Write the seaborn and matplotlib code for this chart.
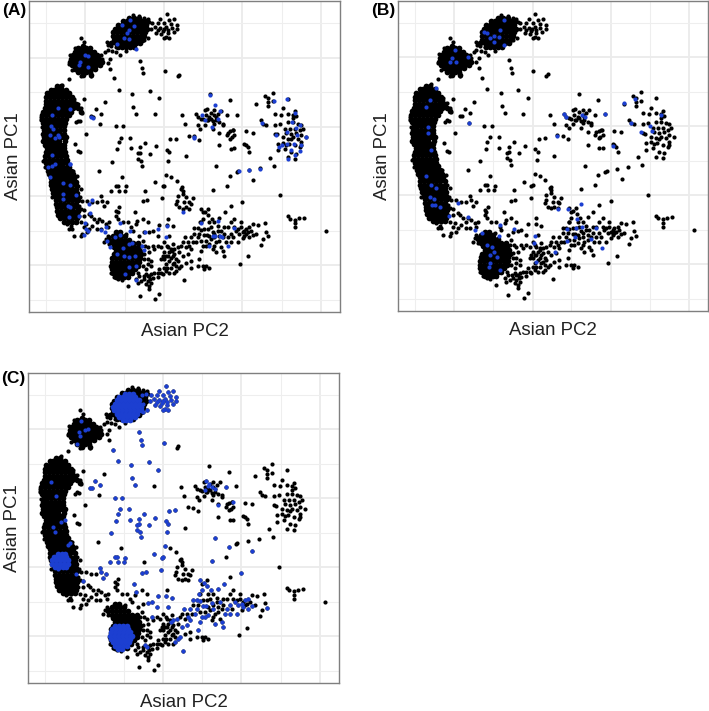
"""Asian PC1 / PC2 scatter, three panels with different highlighted samples."""

import matplotlib
matplotlib.use("Agg")
import matplotlib.pyplot as plt
import pandas as pd
import seaborn as sns

x_limits = (85, 1016)
y_limits = (968, 38)
major_x = [254, 489, 724, 959]
minor_x = [137, 371, 606, 842]
major_y = [207, 414, 621, 828]
minor_y = [103, 311, 517, 725, 932]

# dense clusters, written as (PC1, [PC2, ...]) rows
band_rows = [
    (292, [170, 182]), (303, [150, 161, 173, 184, 195]),
    (314, [140, 152, 164, 176, 188, 200, 206]),
    (325, [136, 147, 159, 171, 183, 195, 207, 213]),
    (336, [135, 148, 160, 172, 184, 196, 208, 218]),
    (347, [135, 147, 159, 171, 183, 195, 207, 219, 226]),
    (358, [133, 146, 158, 170, 182, 194, 206, 218, 232]),
    (369, [128, 140, 152, 164, 176, 188, 200, 212, 240]),
    (380, [124, 136, 148, 160, 172, 184, 196, 206]),
    (391, [124, 135, 147, 159, 171, 183, 195]),
    (402, [128, 140, 152, 164, 176, 186, 193]),
    (413, [132, 143, 155, 167, 179, 190]),
    (424, [130, 142, 154, 166, 178, 190]),
    (435, [128, 140, 152, 164, 176, 190]),
    (446, [130, 142, 154, 166, 178, 188, 195]),
    (457, [128, 140, 152, 164, 176, 192]),
    (468, [132, 144, 156, 168, 180, 190]),
    (479, [138, 150, 162, 174, 190]),
    (490, [135, 147, 159, 171, 183, 192]),
    (501, [132, 144, 156, 168, 180, 196]),
    (512, [132, 145, 157, 169, 181, 193, 198]),
    (523, [135, 147, 159, 171, 183, 200]),
    (534, [138, 150, 162, 174, 186, 198, 205]),
    (545, [142, 154, 166, 178, 190, 202, 212]),
    (556, [145, 157, 169, 181, 193, 205, 218]),
    (567, [150, 161, 173, 185, 197, 209, 220]),
    (578, [150, 162, 174, 186, 198, 210, 225]),
    (589, [152, 164, 176, 188, 200, 212, 225]),
    (600, [155, 167, 179, 191, 203, 215, 225]),
    (611, [158, 170, 182, 194, 206, 218, 228]),
    (622, [162, 174, 186, 198, 210, 222, 230]),
    (633, [165, 177, 189, 201, 213, 225, 232]),
    (644, [165, 177, 189, 201, 213, 225]),
    (655, [168, 180, 192, 204, 216, 230]),
    (666, [168, 180, 192, 204, 216, 232]),
    (677, [172, 184, 196, 208, 220, 230]),
    (688, [178, 190, 202, 214, 228]),
    (699, [190, 202, 214, 225]),
]
west_blob_rows = [
    (172, [248]), (180, [232, 244, 256, 268]),
    (190, [224, 236, 248, 260, 272, 280]),
    (200, [218, 230, 242, 254, 266, 278, 288]),
    (210, [212, 224, 236, 248, 260, 272, 284, 295]),
    (220, [208, 220, 232, 244, 256, 268, 280, 292, 305]),
    (230, [214, 226, 238, 250, 262, 274, 286, 297]),
    (240, [222, 234, 246, 258, 270, 282]),
    (250, [232, 244, 256, 268]), (260, [248, 272]),
]
north_blob_rows = [
    (88, [385, 400, 415]), (99, [365, 377, 389, 401, 413, 425, 437]),
    (110, [350, 362, 374, 386, 398, 410, 422, 434]),
    (121, [342, 354, 366, 378, 390, 402, 414, 426, 438]),
    (132, [336, 348, 360, 372, 384, 396, 408, 420, 432]),
    (143, [336, 348, 360, 372, 384, 396, 408, 420, 430]),
    (154, [338, 350, 362, 374, 386, 398, 410, 422]),
    (165, [330, 345, 357, 369, 381, 393, 405, 417]),
    (176, [350, 362, 374, 386, 398]),
]
south_blob_rows = [
    (730, [345, 357]), (741, [335, 347, 359, 371]),
    (752, [325, 337, 349, 361, 373, 385]),
    (763, [335, 347, 359, 371, 383, 395, 410]),
    (774, [340, 352, 364, 376, 388, 400, 412]),
    (785, [345, 357, 369, 381, 393, 405, 417]),
    (796, [338, 350, 362, 374, 386, 398, 410, 420]),
    (807, [334, 346, 358, 370, 382, 394, 406, 416]),
    (818, [332, 344, 356, 368, 380, 392, 404, 414]),
    (829, [330, 342, 354, 366, 378, 390, 402, 412]),
    (840, [332, 344, 356, 368, 380, 392, 402]),
    (851, [336, 348, 360, 372, 384, 394]),
    (862, [345, 357, 369, 380]),
]

# blue discs of panel C, same row layout
c_north_rows = [
    (100, [375, 387, 399]), (110, [358, 370, 382, 394, 406]),
    (120, [350, 362, 374, 386, 398, 410, 418]),
    (130, [344, 356, 368, 380, 392, 404, 416]),
    (140, [340, 352, 364, 376, 388, 400, 412, 422]),
    (150, [342, 354, 366, 378, 390, 402, 414, 424]),
    (160, [350, 362, 374, 386, 398, 410]),
    (170, [358, 370, 382, 394, 404]), (180, [368, 378, 390]),
]
c_south_rows = [
    (796, [345, 357, 369, 381]), (806, [336, 348, 360, 372, 384]),
    (816, [332, 344, 356, 368, 380, 390]),
    (826, [330, 342, 354, 366, 378, 390, 396]),
    (836, [332, 344, 356, 368, 380, 390]),
    (846, [338, 350, 362, 374, 386]),
    (856, [345, 357, 369, 380]), (866, [355, 367]),
]
c_band_rows = [
    (580, [175, 187, 197]), (590, [163, 175, 187, 199]),
    (600, [157, 169, 181, 193, 205]), (610, [157, 169, 181, 193, 205]),
    (620, [165, 177, 189, 200]),
]

# sparse samples, (PC2, PC1)
upper_points = [
    (497, 78), (478, 92), (505, 95), (520, 93), (452, 105), (470, 105), (490, 105),
    (510, 108), (528, 110), (462, 115), (478, 118), (495, 115), (512, 118), (528, 122),
    (450, 122), (470, 125), (485, 128), (500, 125), (518, 132), (480, 138), (495, 145),
    (505, 150), (490, 150), (465, 135), (442, 150), (430, 155), (425, 104), (437, 102),
    (500, 135), (488, 122), (418, 216), (424, 238), (426, 254), (491, 248), (338, 269),
    (353, 303), (393, 315), (446, 306), (474, 328), (396, 354), (405, 375), (287, 362),
    (270, 382), (277, 384), (302, 375), (344, 412), (367, 412), (361, 447), (387, 447),
    (353, 460), (348, 481), (389, 479), (432, 462), (417, 475), (465, 473), (508, 452),
    (525, 450), (497, 483), (504, 490), (417, 492), (411, 493), (448, 495), (412, 510),
    (332, 518), (420, 516), (424, 530), (502, 515), (646, 532), (686, 560), (757, 572),
    (495, 557), (463, 580), (490, 590), (485, 592), (636, 602), (346, 590), (352, 590),
    (330, 606), (355, 606), (372, 606), (375, 592), (437, 634), (425, 637), (483, 628),
    (301, 622), (303, 635), (318, 640), (310, 652), (250, 662), (402, 670), (408, 695),
    (724, 638), (530, 262), (535, 258), (461, 376), (628, 317), (687, 335), (542, 380),
    (553, 407), (564, 441), (580, 443), (555, 502), (295, 545), (222, 465), (238, 490),
    (232, 488), (256, 435), (237, 398), (232, 396), (226, 400), (250, 331), (314, 341),
    (298, 405), (327, 240), (320, 222), (328, 210), (305, 210), (205, 272), (362, 563),
    (432, 605), (510, 563), (527, 575), (543, 595), (545, 605), (677, 590), (708, 550),
    (712, 547), (743, 543), (776, 537), (805, 507), (817, 530), (837, 619), (860, 682),
    (866, 690), (880, 692), (892, 688), (908, 687), (882, 703), (880, 715), (975, 725),
]
east_points = [
    (612, 365), (618, 362), (640, 365), (660, 366), (585, 376), (590, 385), (600, 390),
    (615, 380), (625, 385), (640, 380), (650, 375), (605, 392), (620, 395), (630, 390),
    (645, 395), (655, 400), (665, 405), (640, 405), (635, 420), (655, 432), (665, 410),
    (678, 380), (707, 378), (612, 408), (590, 410), (598, 420), (618, 395), (630, 372),
    (645, 385), (635, 398), (680, 432), (688, 428), (695, 424), (677, 440), (692, 445),
    (700, 440), (688, 450), (697, 425), (690, 480), (700, 478), (735, 470), (740, 475),
    (745, 490), (730, 467), (655, 470), (595, 453), (735, 428), (755, 432), (790, 323),
    (800, 328), (815, 312), (860, 330), (800, 340), (815, 337), (765, 346), (800, 353),
    (845, 358), (880, 368), (875, 378), (820, 375), (840, 378), (860, 375), (875, 388),
    (885, 382), (780, 395), (785, 405), (795, 408), (820, 408), (835, 405), (860, 400),
    (875, 400), (890, 405), (900, 408), (850, 420), (865, 420), (880, 420), (895, 425),
    (855, 432), (870, 435), (885, 432), (900, 440), (915, 445), (845, 445), (860, 450),
    (875, 445), (890, 450), (900, 460), (830, 465), (845, 462), (862, 465), (880, 470),
    (895, 475), (830, 485), (850, 480), (870, 490), (885, 495), (860, 505), (880, 510),
    (820, 435), (828, 437), (905, 420), (898, 470), (868, 452), (855, 468),
]
lower_points = [
    (600, 660), (612, 668), (622, 678), (632, 690), (605, 690), (598, 700), (655, 686),
    (672, 670), (580, 718), (590, 718), (600, 722), (610, 738), (618, 738), (635, 728),
    (640, 745), (660, 725), (680, 745), (675, 760), (690, 735), (705, 725), (715, 735),
    (725, 730), (735, 720), (745, 715), (730, 740), (745, 745), (755, 738), (800, 742),
    (710, 760), (690, 760), (665, 785), (670, 800), (645, 790), (625, 765), (605, 770),
    (600, 785), (585, 760), (565, 770), (552, 745), (570, 745), (560, 795), (545, 800),
    (530, 775), (520, 780), (512, 785), (550, 872), (535, 835), (525, 845), (540, 830),
    (505, 740), (515, 712), (498, 707), (475, 708), (445, 728), (455, 725), (470, 740),
    (455, 770), (440, 860), (435, 855), (595, 810), (570, 780), (590, 745), (615, 770),
    (605, 670), (620, 660), (640, 700), (690, 650), (700, 690), (720, 700), (770, 708),
    (790, 702), (795, 728), (785, 750), (780, 768), (742, 802), (716, 825), (640, 770),
    (655, 740), (665, 745), (620, 720), (630, 715), (650, 712), (625, 740), (600, 755),
    (645, 760), (660, 775), (635, 780), (625, 835), (610, 840), (615, 830), (605, 830),
    (590, 830), (570, 815), (570, 835), (555, 820), (490, 760), (497, 770), (490, 790),
    (505, 790), (500, 800), (515, 800), (490, 810), (505, 815), (520, 820), (495, 825),
    (510, 835), (525, 830), (495, 845), (520, 850), (475, 840), (485, 855), (460, 850),
    (445, 860), (440, 875), (450, 880), (430, 870), (420, 875), (405, 870), (410, 880),
    (445, 890), (435, 885), (380, 890), (416, 920), (445, 900), (475, 915), (462, 928),
    (440, 825), (450, 830), (440, 810), (430, 795), (450, 855), (470, 862), (480, 850),
    (540, 770), (515, 765), (440, 775), (540, 600), (530, 620), (528, 635), (525, 645),
    (545, 615), (555, 625), (575, 628), (565, 640), (550, 640), (535, 655), (555, 655),
    (545, 660), (570, 645), (565, 660), (245, 635), (260, 635), (275, 640), (290, 640),
    (235, 650), (250, 680), (240, 700), (265, 675), (270, 680), (280, 690), (295, 690),
    (305, 695), (315, 705), (325, 700), (290, 700), (275, 710), (255, 705), (250, 715),
    (265, 720), (260, 730), (245, 735), (240, 742), (290, 720), (300, 720), (320, 715),
    (345, 665), (350, 670), (345, 680), (352, 690), (355, 655), (365, 700), (380, 700),
    (405, 705), (425, 690), (440, 700), (395, 725), (390, 715), (375, 735), (320, 740),
    (325, 745), (310, 760), (430, 730), (415, 740), (215, 720), (210, 712), (200, 705),
    (205, 720), (220, 740), (432, 770), (425, 755), (500, 690), (470, 770), (480, 775),
    (600, 700), (625, 700), (690, 700), (680, 715), (710, 720), (755, 705),
    # second pass over the crowded part of the arm
    (500, 775), (510, 780), (495, 800), (485, 800), (510, 808), (525, 810), (498, 835),
    (515, 825), (530, 815), (505, 850), (490, 835), (470, 850), (455, 865), (448, 870),
    (428, 860), (415, 860), (560, 760), (575, 760), (640, 735), (650, 725), (630, 750),
    (615, 755), (655, 755), (670, 735), (695, 745), (700, 715), (720, 715), (730, 725),
    (735, 735), (725, 748), (740, 730), (750, 725), (765, 735), (670, 715), (610, 720),
    (595, 735), (580, 735), (545, 760), (555, 775), (535, 790), (520, 795), (460, 780),
    (445, 790), (450, 815), (435, 840), (480, 810),
]

# loose samples around the edges of the dense clusters
edge_points = [
    (240, 150), (250, 160), (222, 178), (208, 198), (204, 225), (215, 245), (240, 262),
    (272, 262), (300, 200), (312, 190), (318, 160), (330, 172), (320, 185), (333, 187),
    (345, 192), (356, 200), (375, 188), (322, 170), (345, 175), (430, 88), (415, 82),
    (395, 80), (440, 92), (445, 100), (185, 288), (220, 330), (232, 345), (240, 358),
    (245, 372), (120, 385), (120, 395), (125, 415), (138, 470), (128, 515), (132, 535),
    (148, 560), (218, 545), (228, 560), (222, 575), (232, 590), (240, 600), (238, 625),
    (155, 625), (165, 610), (240, 660), (235, 680), (215, 700), (205, 698), (325, 765),
    (315, 750), (420, 770), (430, 810), (425, 830), (412, 850), (340, 862), (352, 870),
    (362, 872), (330, 850),
]

# highlighted samples per panel
blue_a = [
    (388, 95), (363, 110), (398, 113), (383, 125), (378, 135), (368, 150), (383, 153),
    (348, 168), (406, 183), (253, 198), (263, 203), (238, 220), (263, 235), (236, 230),
    (153, 378), (171, 357), (208, 360), (270, 385), (276, 387), (150, 413), (158, 420),
    (148, 438), (173, 438), (163, 447), (176, 445), (153, 500), (163, 525), (208, 525),
    (143, 535), (153, 530), (580, 447), (628, 318), (641, 348), (658, 367), (603, 380),
    (613, 395), (651, 390), (633, 415), (580, 446), (818, 338), (858, 332), (880, 372),
    (783, 403), (873, 400), (883, 417), (896, 408), (825, 438), (858, 430), (888, 440),
    (913, 446), (898, 470), (878, 465), (858, 465), (843, 468), (833, 475), (870, 485),
    (896, 487), (880, 500), (860, 511), (713, 545), (743, 543), (776, 539), (208, 525),
    (188, 583), (148, 565), (208, 587), (188, 615), (188, 630), (203, 650), (208, 655),
    (205, 685), (226, 618), (266, 645), (275, 633), (236, 680), (268, 673), (253, 702),
    (256, 720), (263, 725), (250, 737), (301, 722), (316, 715), (313, 728), (356, 703),
    (386, 725), (343, 745), (318, 755), (326, 773), (356, 737), (366, 777), (383, 765),
    (393, 763), (423, 770), (428, 783), (348, 795), (368, 800), (383, 805), (403, 800),
    (383, 833), (406, 830), (373, 853), (406, 873), (432, 728), (470, 720), (498, 710),
    (496, 745), (546, 668), (601, 703), (650, 697), (636, 740), (641, 740), (658, 742),
    (664, 743), (698, 717), (680, 770), (623, 771),
]
blue_b = [
    (402, 95), (342, 130), (352, 135), (392, 125), (372, 143), (387, 145), (362, 150),
    (372, 160), (402, 170), (255, 185), (247, 210), (242, 220), (259, 220), (295, 207),
    (199, 300), (182, 335), (170, 357), (299, 403), (175, 415), (175, 435), (183, 485),
    (169, 563), (184, 590), (199, 600), (182, 625), (192, 633), (197, 650), (212, 655),
    (187, 650), (265, 645), (237, 683), (294, 685), (315, 725), (337, 735), (390, 710),
    (432, 722), (387, 742), (495, 743), (492, 765), (352, 770), (367, 775), (372, 790),
    (362, 800), (382, 805), (362, 825), (357, 835), (392, 845), (499, 820), (557, 790),
    (564, 442), (584, 377), (590, 387), (637, 380), (647, 387), (707, 378), (763, 345),
    (797, 332), (874, 380), (785, 405), (842, 412), (815, 432), (849, 428), (730, 473),
    (634, 647), (597, 663), (567, 663), (622, 693), (619, 720), (639, 715), (592, 721),
    (679, 720), (592, 757), (617, 745), (665, 753), (699, 780),
]
blue_c_extra = [
    (245, 182), (238, 215), (255, 210), (265, 205), (240, 228), (232, 250), (155, 365),
    (170, 408), (160, 500), (165, 515), (185, 485), (195, 478), (210, 548), (205, 555),
    (175, 625), (230, 640), (628, 370), (615, 390), (635, 380), (645, 385), (625, 378),
    (618, 362), (655, 435), (678, 380), (700, 425), (420, 150), (430, 130),
]

panel_tags = ["(A)", "(B)", "(C)"]
x_label = "Asian PC2"
y_label = "Asian PC1"

FIG_W, FIG_H = 709, 711
DOT = 9
DENSE_DOT = 17
BLUE = "#1c3fd1"


def expand_rows(rows):
    """Turn (PC1, [PC2, ...]) rows into (PC2, PC1) pairs."""
    return [(x, y) for y, xs in rows for x in xs]


def to_frame(points):
    return pd.DataFrame(points, columns=["pc2", "pc1"])


def dots(ax, points, color, size, zorder):
    sns.scatterplot(data=to_frame(points), x="pc2", y="pc1", color=color, s=size, linewidth=0,
                    ax=ax, zorder=zorder, legend=False)


def draw_panel(fig, box, tag, tag_y, highlighted, discs=None):
    """Draw one panel: all samples in black, the highlighted ones on top in blue."""
    left, top, width, height = box
    ax = fig.add_axes([left / FIG_W, 1 - (top + height) / FIG_H, width / FIG_W, height / FIG_H])
    dots(ax, dense_points, "black", DENSE_DOT, 3)
    dots(ax, sparse_points, "black", DOT, 3)
    dots(ax, highlighted, BLUE, DOT, 4)
    if discs:
        dots(ax, discs, BLUE, DENSE_DOT, 4)
    ax.set_xlim(*x_limits)
    ax.set_ylim(*y_limits)
    ax.set_xticks(major_x)
    ax.set_yticks(major_y)
    ax.set_xticks(minor_x, minor=True)
    ax.set_yticks(minor_y, minor=True)
    ax.tick_params(which="both", length=0, labelbottom=False, labelleft=False)
    ax.grid(which="major", color="#ebebeb", linewidth=1.3)
    ax.grid(which="minor", color="#eeeeee", linewidth=0.8)
    ax.set_axisbelow(True)
    for spine in ax.spines.values():
        spine.set_color("#7f7f7f")
        spine.set_linewidth(1.0)
    ax.set_xlabel(x_label, fontsize=13.4, color="#222222", labelpad=8)
    ax.set_ylabel(y_label, fontsize=13.4, color="#222222", labelpad=5)
    fig.text((left - 27) / FIG_W, 1 - tag_y / FIG_H, tag, fontsize=12.5, fontweight="bold",
             ha="left", va="center", color="black")
    return ax


dense_points = (
    expand_rows(band_rows) + expand_rows(west_blob_rows) + expand_rows(north_blob_rows)
    + expand_rows(south_blob_rows)
)
sparse_points = upper_points + east_points + lower_points + edge_points
blue_discs = expand_rows(c_north_rows) + expand_rows(c_south_rows) + expand_rows(c_band_rows)
blue_c = upper_points[:92] + lower_points[:63] + blue_c_extra

sns.set_theme(style="white")
plt.rcParams["font.family"] = ["Liberation Sans", "DejaVu Sans"]

fig = plt.figure(figsize=(7.09, 7.11), dpi=100)
draw_panel(fig, (29, 1, 311, 311), panel_tags[0], 11, blue_a)
draw_panel(fig, (398, 1, 310, 310), panel_tags[1], 11, blue_b)
draw_panel(fig, (28, 373, 311, 310), panel_tags[2], 379, blue_c, blue_discs)

fig.savefig("out.png", dpi=100)
